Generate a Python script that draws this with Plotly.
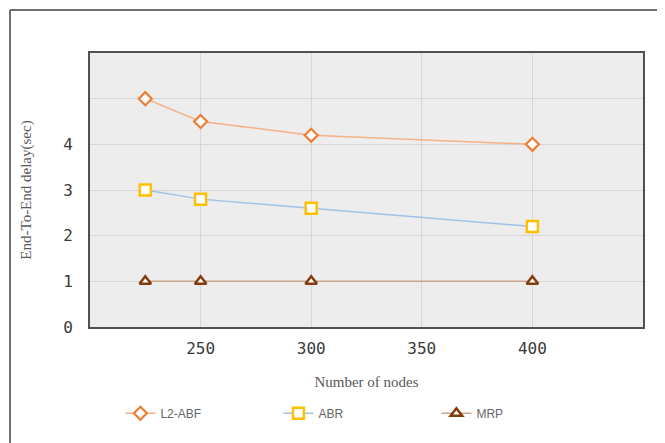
import plotly.graph_objects as go

nodes = [225, 250, 300, 400]
l2_abf = [5.0, 4.5, 4.2, 4.0]
abr = [3.0, 2.8, 2.6, 2.2]
mrp = [1.0, 1.0, 1.0, 1.0]

x_ticks = [250, 300, 350, 400]
y_ticks = [0, 1, 2, 3, 4, 5]
y_labels = ["0", "1", "2", "3", "4", ""]

fig = go.Figure()
fig.add_trace(go.Scatter(
    x=nodes, y=l2_abf, name="L2-ABF", mode="lines+markers",
    line=dict(color="#f4b183", width=1.5),
    marker=dict(symbol="diamond", size=10, color="white",
                line=dict(color="#ed7d31", width=2.2)),
))
fig.add_trace(go.Scatter(
    x=nodes, y=abr, name="ABR", mode="lines+markers",
    line=dict(color="#9dc3e6", width=1.5),
    marker=dict(symbol="square", size=11, color="white",
                line=dict(color="#ffc000", width=2.5)),
))
fig.add_trace(go.Scatter(
    x=nodes, y=mrp, name="MRP", mode="lines+markers",
    line=dict(color="#c9a48f", width=1.5),
    marker=dict(symbol="triangle-up", size=10, color="white",
                line=dict(color="#843c0c", width=2.5)),
))

tick_font = dict(family="DejaVu Sans Mono", size=16, color="#3a3a3a")
title_font = dict(family="Liberation Serif", size=15, color="#595959")

# page body has an 8px default margin; figure size compensates
W, H = 657, 435
L, R, T, B = 82, 22, 45, 116
pw, ph = W - L - R, H - T - B

top_y = 1 + (T - 2) / ph
left_x = (2 - L) / pw

fig.update_layout(
    width=W, height=H,
    margin=dict(l=L, r=R, t=T, b=B),
    paper_bgcolor="white",
    plot_bgcolor="#ededed",
    showlegend=True,
    legend=dict(
        orientation="h", x=0.055, y=-0.315, xanchor="left", yanchor="middle",
        font=dict(family="Liberation Sans Narrow, Liberation Sans", size=12,
                  color="#666666"),
        entrywidth=113, entrywidthmode="pixels", itemwidth=30,
        bgcolor="rgba(0,0,0,0)",
    ),
    xaxis=dict(
        range=[200, 450], tickvals=x_ticks, tickfont=tick_font,
        showgrid=True, gridcolor="#d6d6d6", gridwidth=1,
        zeroline=False, showline=True, mirror=True,
        linecolor="#505050", linewidth=2, ticks="",
        ticklabelstandoff=6,
        title=dict(text="Number of nodes", font=title_font, standoff=19),
    ),
    yaxis=dict(
        range=[0, 6], tickvals=y_ticks, ticktext=y_labels, tickfont=tick_font,
        showgrid=True, gridcolor="#d6d6d6", gridwidth=1,
        zeroline=False, showline=True, mirror=True,
        linecolor="#505050", linewidth=2, ticks="",
        ticklabelstandoff=12,
        title=dict(text="End-To-End delay(sec)", font=title_font, standoff=28),
    ),
    shapes=[
        dict(type="line", xref="paper", yref="paper",
             x0=left_x, x1=(W + 20 - L) / pw,
             y0=top_y, y1=top_y,
             line=dict(color="#707070", width=2)),
        dict(type="line", xref="paper", yref="paper",
             x0=left_x, x1=left_x,
             y0=top_y, y1=-(B + 20) / ph,
             line=dict(color="#707070", width=2)),
    ],
)

fig.write_html("out.html")
